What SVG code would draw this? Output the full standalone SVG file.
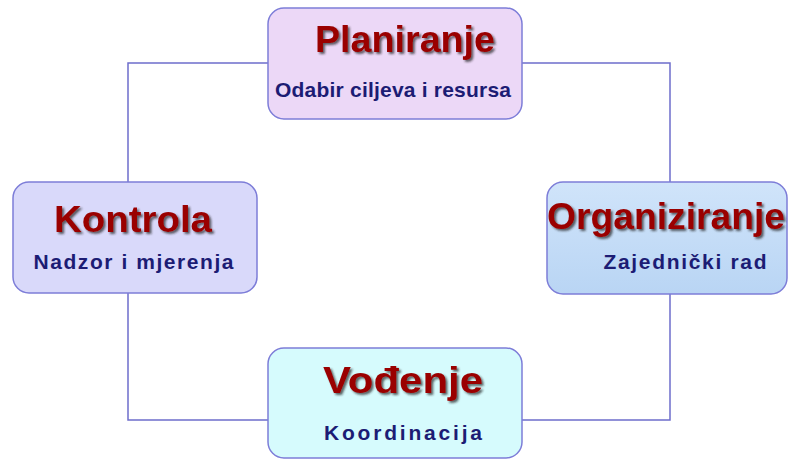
<svg xmlns="http://www.w3.org/2000/svg" width="792" height="461" viewBox="0 0 792 461">
<defs>
<filter id="sh" x="-10%" y="-20%" width="130%" height="160%">
<feDropShadow dx="2" dy="2" stdDeviation="1" flood-color="#222" flood-opacity="0.7"/>
</filter>
<linearGradient id="gOrg" x1="0" y1="0" x2="0" y2="1">
<stop offset="0" stop-color="#d0e4fa"/>
<stop offset="1" stop-color="#b9d5f4"/>
</linearGradient>
</defs>
<style>
.box{stroke:#7d7dd8;stroke-width:1.5}
.conn{fill:none;stroke:#6e6ecc;stroke-width:1.5}
.title{font-family:"Liberation Sans",Arial,sans-serif;font-weight:bold;font-size:36px;fill:#9a0000;text-anchor:middle;filter:url(#sh)}
.sub{font-family:"Liberation Sans",Arial,sans-serif;font-weight:bold;font-size:21px;fill:#1c1c74;text-anchor:middle}
</style>
<g id="connectors">
<polyline class="conn" points="268,63 128,63 128,183"/>
<polyline class="conn" points="522,63 670,63 670,183"/>
<polyline class="conn" points="128,293 128,420 268,420"/>
<polyline class="conn" points="670,294 670,420 522,420"/>
</g>
<g id="planiranje">
<rect class="box" x="268" y="8" width="254" height="111" rx="16" fill="#ecd8f7"/>
<text class="title" x="405" y="52" textLength="180" lengthAdjust="spacingAndGlyphs">Planiranje</text>
<text class="sub" x="393" y="97" textLength="236" lengthAdjust="spacing">Odabir ciljeva i resursa</text>
</g>
<g id="kontrola">
<rect class="box" x="13" y="182" width="244" height="111" rx="16" fill="#d9d9fa"/>
<text class="title" x="133" y="232" textLength="158" lengthAdjust="spacingAndGlyphs">Kontrola</text>
<text class="sub" x="133.5" y="269" textLength="200" lengthAdjust="spacing">Nadzor i mjerenja</text>
</g>
<g id="organiziranje">
<rect class="box" x="547" y="182" width="240" height="112" rx="16" fill="url(#gOrg)"/>
<text class="title" x="666" y="229" textLength="238" lengthAdjust="spacingAndGlyphs">Organiziranje</text>
<text class="sub" x="685" y="269" textLength="163" lengthAdjust="spacing">Zajednički rad</text>
</g>
<g id="vodjenje">
<rect class="box" x="268" y="348" width="254" height="110" rx="16" fill="#d6fbfd"/>
<text class="title" x="403" y="393" textLength="160" lengthAdjust="spacingAndGlyphs">Vođenje</text>
<text class="sub" x="403" y="440" textLength="158" lengthAdjust="spacing">Koordinacija</text>
</g>
</svg>
